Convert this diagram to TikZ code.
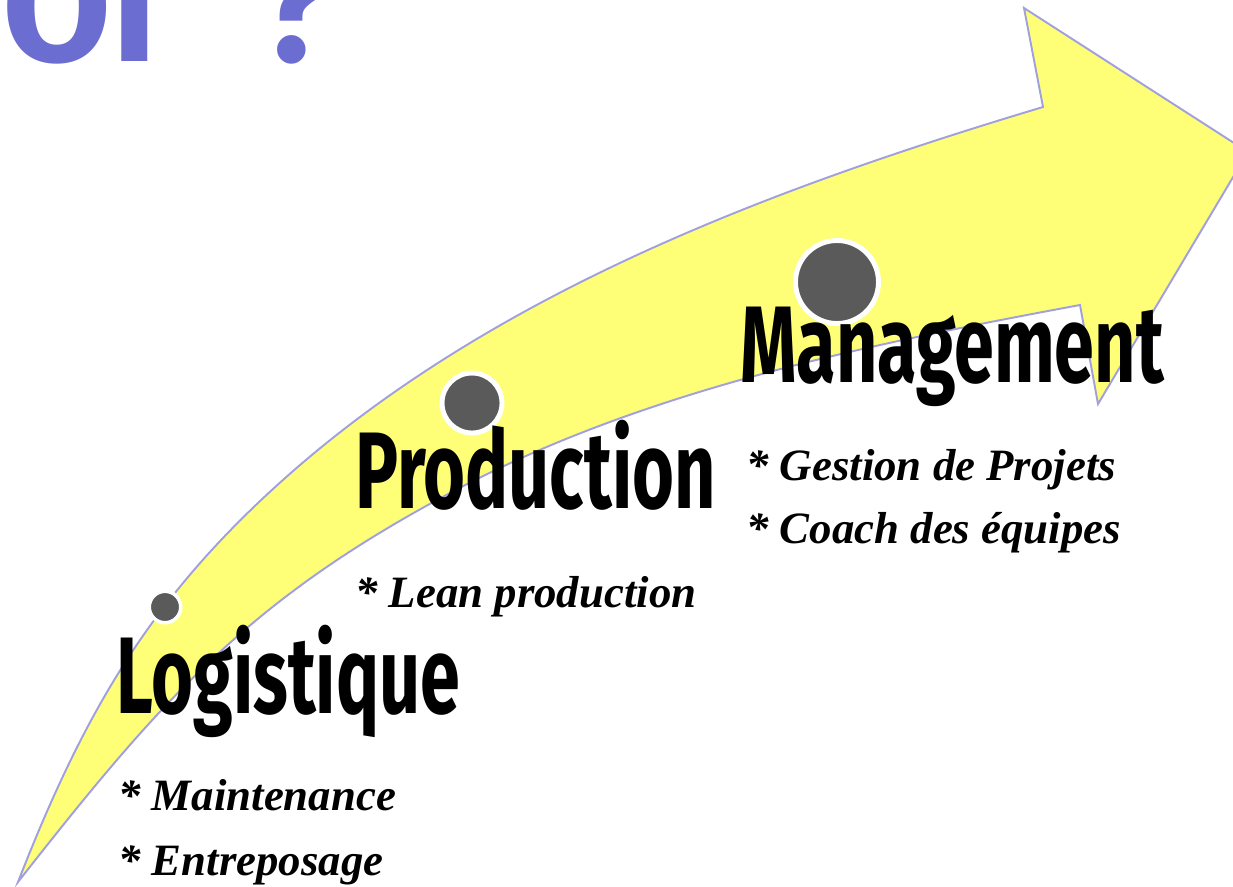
\documentclass[tikz,border=0pt]{standalone}
\usepackage{fontspec}
\setmainfont{Liberation Serif}
\newfontfamily\titlefont[FakeStretch=0.66]{Fira Sans}
\newfontfamily\headfont{Fira Sans}
\definecolor{arrowfill}{RGB}{255,255,119}
\definecolor{arrowedge}{RGB}{160,160,222}
\definecolor{dotgray}{RGB}{90,90,90}
\definecolor{headblue}{RGB}{107,109,208}
\begin{document}
\begin{tikzpicture}[x=0.02cm,y=-0.02cm,
    stagetitle/.style={anchor=base west,inner sep=0pt,
      font=\titlefont\bfseries\fontsize{62}{62}\selectfont},
    task/.style={anchor=base west,inner sep=0pt,
      font=\bfseries\itshape\fontsize{25.5}{26}\selectfont},
    stagedot/.style={circle,fill=dotgray,draw=white,inner sep=0pt}]
  \useasboundingbox (0,0) rectangle (1233,886);
  \clip (0,0) rectangle (1233,886);
  % Heading, cut off by the page
  \node[anchor=base west,inner sep=0pt,text=headblue,
    font=\headfont\bfseries\fontsize{90}{90}\selectfont] (header) at (2,61)
    {OI\hspace{2cm}?};
  % Arrow
  \filldraw[fill=arrowfill,draw=arrowedge,line width=1.1pt]
    (18,882) .. controls (87,705) and (156,589) .. (300,465)
    .. controls (509,286) and (780,186) .. (1043,107)
    -- (1024,8) -- (1248,152) -- (1098,404) -- (1080,305)
    .. controls (865,345) and (643,390) .. (450,493)
    .. controls (247,601) and (160,701) .. (18,882)
    -- cycle;
  % Dots
  \node[stagedot,line width=2pt,minimum size=0.63cm] (logdot) at (165,607) {};
  \node[stagedot,line width=2.8pt,minimum size=1.2cm] (proddot) at (472,403) {};
  \node[stagedot,line width=2.8pt,minimum size=1.66cm] (mgmtdot) at (837,282) {};
  % Titles
  \node[stagetitle] (logtitle) at (116,713) {Logistique};
  \node[stagetitle] (prodtitle) at (355,508) {Production};
  \node[stagetitle] (mgmttitle) at (740,382) {Management};
  % Tasks
  \node[task] (maint) at (118,810) {* Maintenance};
  \node[task] (entre) at (118,875) {* Entreposage};
  \node[task] (lean) at (355,607) {* Lean production};
  \node[task] (gestion) at (746,480) {* Gestion de Projets};
  \node[task] (coach) at (746,543) {* Coach des équipes};
\end{tikzpicture}
\end{document}
